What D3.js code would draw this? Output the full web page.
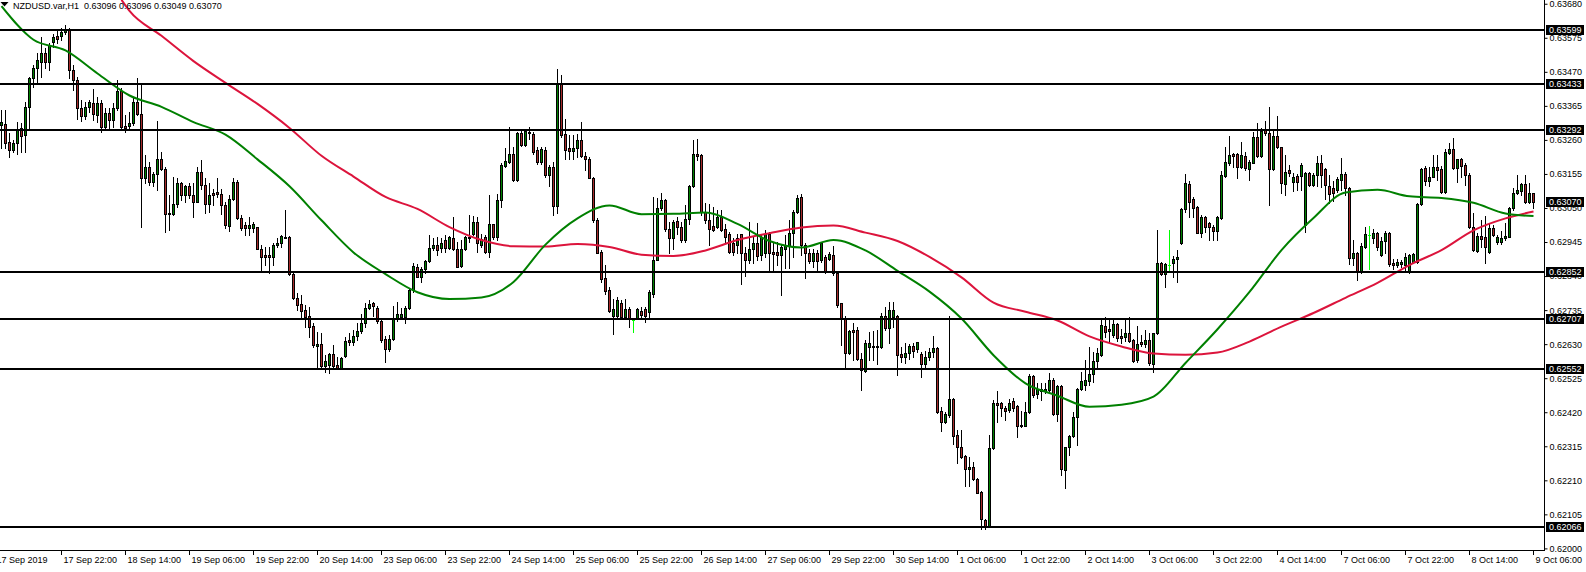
<!DOCTYPE html>
<html><head><meta charset="utf-8">
<script src="https://cdn.jsdelivr.net/npm/d3@7"></script>
<style>
html,body{margin:0;padding:0;background:#fff;overflow:hidden;}
svg{display:block;font-family:"Liberation Sans",Arial,sans-serif;}
</style></head><body>
<svg id="c" width="1586" height="572"></svg>
<script>
const title = "NZDUSD.var,H1  0.63096 0.63096 0.63049 0.63070";
const open = [
0.63306,0.63308,0.63254,0.63229,0.63249,0.63298,0.63275,0.63362,0.63450,0.63481,
0.63501,0.63527,0.63499,0.63561,0.63581,0.63581,0.63592,0.63599,0.63475,0.63445,
0.63357,0.63335,0.63362,0.63373,0.63337,0.63373,0.63301,0.63342,0.63321,0.63359,
0.63411,0.63304,0.63304,0.63311,0.63376,0.63341,0.63141,0.63176,0.63129,0.63154,
0.63201,0.63170,0.63033,0.63032,0.63061,0.63126,0.63090,0.63119,0.63090,0.63069,
0.63162,0.63121,0.63061,0.63095,0.63098,0.63092,0.63059,0.62995,0.63078,0.63131,
0.63020,0.62997,0.62989,0.62987,0.62990,0.62925,0.62905,0.62905,0.62900,0.62936,
0.62941,0.62956,0.62959,0.62846,0.62771,0.62754,0.62735,0.62717,0.62686,0.62624,
0.62630,0.62562,0.62566,0.62600,0.62566,0.62555,0.62593,0.62643,0.62638,0.62655,
0.62671,0.62696,0.62743,0.62756,0.62743,0.62702,0.62645,0.62614,0.62645,0.62709,
0.62715,0.62715,0.62743,0.62797,0.62869,0.62838,0.62861,0.62887,0.62928,0.62936,
0.62928,0.62951,0.62928,0.62956,0.62925,0.62871,0.62922,0.62961,0.62970,0.63008,
0.62936,0.62961,0.62915,0.63000,0.62961,0.63074,0.63179,0.63193,0.63216,0.63136,
0.63282,0.63244,0.63285,0.63278,0.63230,0.63192,0.63230,0.63151,0.63177,0.63056,
0.63434,0.63278,0.63234,0.63226,0.63234,0.63259,0.63210,0.63202,0.63144,0.63013,
0.62914,0.62833,0.62797,0.62716,0.62716,0.62758,0.62714,0.62737,0.62706,0.62712,
0.62733,0.62737,0.62730,0.62786,0.62891,0.63049,0.63074,0.62984,0.62956,0.63010,
0.62992,0.62951,0.63015,0.63117,0.63218,0.63213,0.63038,0.63013,0.62994,0.62992,
0.63023,0.62984,0.62969,0.62943,0.62935,0.62969,0.62912,0.62891,0.62922,0.62943,
0.62905,0.62910,0.62971,0.62915,0.62915,0.62905,0.62922,0.62933,0.62972,0.63039,
0.63083,0.62936,0.62910,0.62888,0.62910,0.62890,0.62900,0.62892,0.62905,0.62848,
0.62756,0.62707,0.62604,0.62674,0.62674,0.62583,0.62548,0.62620,0.62624,0.62620,
0.62622,0.62717,0.62679,0.62715,0.62717,0.62600,0.62591,0.62602,0.62624,0.62614,
0.62600,0.62569,0.62589,0.62607,0.62617,0.62425,0.62391,0.62412,0.62460,0.62350,
0.62312,0.62285,0.62244,0.62250,0.62213,0.62175,0.62088,0.62069,0.62309,0.62450,
0.62448,0.62432,0.62427,0.62456,0.62439,0.62376,0.62378,0.62422,0.62532,0.62476,
0.62491,0.62487,0.62489,0.62519,0.62415,0.62501,0.62242,0.62312,0.62347,0.62404,
0.62491,0.62504,0.62517,0.62538,0.62579,0.62597,0.62686,0.62676,0.62658,0.62692,
0.62655,0.62653,0.62663,0.62643,0.62581,0.62638,0.62631,0.62643,0.62569,0.62663,
0.62881,0.62846,0.62874,0.62879,0.62892,0.62941,0.63046,0.63124,0.63077,0.63054,
0.62974,0.63021,0.63005,0.62992,0.62980,0.63018,0.63149,0.63188,0.63215,0.63216,
0.63177,0.63210,0.63169,0.63190,0.63270,0.63210,0.63290,0.63280,0.63169,0.63272,
0.63237,0.63124,0.63167,0.63131,0.63149,0.63149,0.62997,0.63159,0.63121,0.63152,
0.63190,0.63169,0.63118,0.63111,0.63105,0.63136,0.63155,0.63111,0.62895,0.62912,
0.62854,0.62931,0.62967,0.62956,0.62972,0.62905,0.62949,0.62972,0.62881,0.62874,
0.62877,0.62874,0.62857,0.62884,0.62884,0.63062,0.63172,0.63134,0.63147,0.63177,
0.63169,0.63100,0.63221,0.63231,0.63172,0.63200,0.63183,0.63152,0.62990,0.62918,
0.62964,0.62959,0.62915,0.62987,0.62946,0.62946,0.62956,0.62962,0.63049,0.63095,
0.63103,0.63124,0.63069,0.63096];
const high = [
0.63352,0.63352,0.63280,0.63260,0.63316,0.63311,0.63378,0.63455,0.63491,0.63527,
0.63578,0.63542,0.63558,0.63588,0.63599,0.63606,0.63614,0.63604,0.63491,0.63455,
0.63383,0.63376,0.63383,0.63417,0.63393,0.63383,0.63357,0.63357,0.63373,0.63445,
0.63419,0.63337,0.63347,0.63388,0.63452,0.63434,0.63213,0.63193,0.63162,0.63318,
0.63224,0.63177,0.63090,0.63146,0.63141,0.63131,0.63121,0.63126,0.63126,0.63177,
0.63198,0.63141,0.63126,0.63110,0.63141,0.63108,0.63069,0.63090,0.63141,0.63136,
0.63028,0.63008,0.63023,0.63008,0.62992,0.62936,0.62931,0.62931,0.62941,0.62956,
0.62966,0.63044,0.62963,0.62850,0.62787,0.62781,0.62751,0.62745,0.62694,0.62668,
0.62665,0.62596,0.62604,0.62627,0.62591,0.62591,0.62653,0.62663,0.62674,0.62694,
0.62723,0.62758,0.62766,0.62761,0.62748,0.62705,0.62655,0.62658,0.62748,0.62761,
0.62743,0.62748,0.62802,0.62879,0.62877,0.62869,0.62889,0.62966,0.62956,0.62961,
0.62956,0.62966,0.62963,0.63021,0.62946,0.62951,0.62963,0.63028,0.63025,0.63023,
0.62971,0.62966,0.63090,0.63002,0.63093,0.63188,0.63234,0.63299,0.63237,0.63285,
0.63288,0.63295,0.63300,0.63285,0.63237,0.63237,0.63237,0.63182,0.63192,0.63480,
0.63460,0.63326,0.63275,0.63275,0.63278,0.63316,0.63223,0.63208,0.63146,0.63018,
0.62920,0.62874,0.62807,0.62768,0.62774,0.62766,0.62768,0.62745,0.62709,0.62740,
0.62745,0.62745,0.62797,0.63085,0.63082,0.63095,0.63079,0.63007,0.63013,0.63023,
0.63007,0.63059,0.63120,0.63259,0.63264,0.63218,0.63064,0.63062,0.63054,0.63045,
0.63043,0.63002,0.62977,0.62956,0.62971,0.62971,0.62930,0.63007,0.62959,0.63004,
0.62971,0.62982,0.62977,0.62941,0.62946,0.62936,0.62967,0.63013,0.63044,0.63090,
0.63093,0.62941,0.62922,0.62922,0.62920,0.62946,0.62905,0.62915,0.62933,0.62851,
0.62758,0.62717,0.62674,0.62696,0.62684,0.62602,0.62643,0.62669,0.62672,0.62674,
0.62725,0.62746,0.62761,0.62761,0.62720,0.62622,0.62633,0.62631,0.62633,0.62638,
0.62607,0.62610,0.62617,0.62655,0.62622,0.62437,0.62422,0.62717,0.62463,0.62365,
0.62365,0.62288,0.62283,0.62268,0.62216,0.62178,0.62090,0.62350,0.62458,0.62484,
0.62453,0.62439,0.62460,0.62463,0.62442,0.62425,0.62453,0.62538,0.62535,0.62509,
0.62509,0.62509,0.62540,0.62525,0.62504,0.62504,0.62314,0.62350,0.62422,0.62494,
0.62545,0.62581,0.62620,0.62607,0.62617,0.62710,0.62715,0.62705,0.62705,0.62696,
0.62676,0.62710,0.62713,0.62645,0.62686,0.62658,0.62674,0.62663,0.62665,0.62982,
0.62884,0.62881,0.62982,0.62902,0.62920,0.63049,0.63155,0.63134,0.63083,0.63056,
0.63028,0.63025,0.63008,0.62997,0.63025,0.63165,0.63239,0.63272,0.63219,0.63221,
0.63254,0.63224,0.63198,0.63285,0.63311,0.63296,0.63319,0.63360,0.63293,0.63334,
0.63239,0.63213,0.63183,0.63159,0.63155,0.63188,0.63162,0.63162,0.63157,0.63210,
0.63213,0.63172,0.63152,0.63134,0.63145,0.63203,0.63162,0.63114,0.62951,0.62915,
0.62941,0.62992,0.62994,0.62984,0.62977,0.62962,0.62980,0.62977,0.62892,0.62892,
0.62890,0.62910,0.62908,0.62912,0.63064,0.63172,0.63179,0.63177,0.63213,0.63213,
0.63179,0.63231,0.63249,0.63265,0.63200,0.63203,0.63188,0.63157,0.63036,0.62974,
0.63013,0.63025,0.63003,0.62997,0.62967,0.62980,0.63003,0.63054,0.63111,0.63152,
0.63126,0.63152,0.63126,0.63096];
const low = [
0.63234,0.63234,0.63208,0.63224,0.63218,0.63224,0.63224,0.63295,0.63424,0.63439,
0.63455,0.63481,0.63475,0.63547,0.63558,0.63568,0.63588,0.63450,0.63414,0.63326,
0.63318,0.63326,0.63347,0.63321,0.63316,0.63283,0.63295,0.63295,0.63301,0.63352,
0.63290,0.63285,0.63290,0.63306,0.63337,0.62992,0.63126,0.63121,0.63119,0.63105,
0.63167,0.62977,0.62982,0.63028,0.63054,0.63074,0.63069,0.63082,0.63023,0.63067,
0.63110,0.63033,0.63038,0.63059,0.63085,0.63030,0.62987,0.62979,0.63074,0.63016,
0.62982,0.62967,0.62967,0.62977,0.62922,0.62859,0.62874,0.62848,0.62874,0.62931,
0.62931,0.62956,0.62843,0.62768,0.62735,0.62709,0.62684,0.62653,0.62620,0.62560,
0.62555,0.62545,0.62542,0.62555,0.62552,0.62552,0.62591,0.62627,0.62627,0.62643,
0.62665,0.62684,0.62737,0.62717,0.62694,0.62638,0.62576,0.62610,0.62643,0.62702,
0.62709,0.62694,0.62737,0.62792,0.62836,0.62823,0.62848,0.62884,0.62920,0.62905,
0.62915,0.62915,0.62925,0.62920,0.62867,0.62869,0.62920,0.62946,0.62966,0.62915,
0.62931,0.62910,0.62898,0.62953,0.62951,0.63054,0.63177,0.63188,0.63134,0.63134,
0.63241,0.63241,0.63264,0.63218,0.63187,0.63187,0.63146,0.63117,0.63028,0.63033,
0.63270,0.63200,0.63200,0.63200,0.63208,0.63208,0.63167,0.63141,0.63007,0.62910,
0.62822,0.62786,0.62730,0.62661,0.62714,0.62709,0.62709,0.62684,0.62668,0.62709,
0.62714,0.62699,0.62712,0.62774,0.62889,0.63043,0.62980,0.62912,0.62925,0.62971,
0.62946,0.62946,0.63002,0.63115,0.63198,0.63028,0.63004,0.62935,0.62980,0.62987,
0.62980,0.62941,0.62910,0.62905,0.62910,0.62817,0.62840,0.62879,0.62879,0.62891,
0.62889,0.62899,0.62860,0.62859,0.62874,0.62782,0.62864,0.62864,0.62900,0.63034,
0.62905,0.62833,0.62879,0.62869,0.62859,0.62884,0.62848,0.62890,0.62843,0.62746,
0.62627,0.62561,0.62600,0.62581,0.62581,0.62489,0.62545,0.62581,0.62581,0.62569,
0.62617,0.62674,0.62635,0.62682,0.62535,0.62576,0.62571,0.62583,0.62591,0.62607,
0.62528,0.62555,0.62581,0.62591,0.62417,0.62363,0.62386,0.62406,0.62322,0.62263,
0.62278,0.62191,0.62191,0.62211,0.62170,0.62059,0.62059,0.62067,0.62306,0.62391,
0.62408,0.62396,0.62422,0.62425,0.62345,0.62374,0.62376,0.62419,0.62468,0.62463,
0.62458,0.62478,0.62483,0.62412,0.62394,0.62226,0.62185,0.62288,0.62345,0.62319,
0.62489,0.62489,0.62504,0.62514,0.62561,0.62593,0.62653,0.62635,0.62653,0.62641,
0.62635,0.62641,0.62638,0.62576,0.62576,0.62624,0.62620,0.62566,0.62545,0.62661,
0.62843,0.62807,0.62854,0.62838,0.62823,0.62939,0.63039,0.63023,0.63023,0.62972,
0.62962,0.62977,0.62951,0.62951,0.62951,0.63015,0.63147,0.63183,0.63177,0.63141,
0.63172,0.63167,0.63136,0.63188,0.63208,0.63206,0.63275,0.63059,0.63167,0.63234,
0.63095,0.63090,0.63149,0.63103,0.63105,0.63105,0.62977,0.63118,0.63118,0.63118,
0.63114,0.63077,0.63064,0.63073,0.63100,0.63107,0.63090,0.62877,0.62874,0.62828,
0.62848,0.62926,0.62861,0.62941,0.62920,0.62902,0.62910,0.62871,0.62861,0.62869,
0.62869,0.62859,0.62851,0.62881,0.62881,0.63059,0.63121,0.63118,0.63145,0.63136,
0.63097,0.63097,0.63216,0.63169,0.63131,0.63147,0.63121,0.62987,0.62918,0.62915,
0.62931,0.62881,0.62912,0.62964,0.62939,0.62939,0.62951,0.62959,0.63044,0.63093,
0.63090,0.63066,0.63066,0.63049];
const close = [
0.63314,0.63249,0.63229,0.63249,0.63295,0.63273,0.63361,0.63450,0.63483,0.63506,
0.63527,0.63501,0.63552,0.63578,0.63571,0.63594,0.63599,0.63475,0.63445,0.63357,
0.63335,0.63362,0.63376,0.63339,0.63373,0.63301,0.63342,0.63321,0.63359,0.63411,
0.63301,0.63298,0.63311,0.63376,0.63341,0.63141,0.63176,0.63129,0.63154,0.63201,
0.63170,0.63030,0.63030,0.63061,0.63126,0.63090,0.63117,0.63090,0.63069,0.63162,
0.63121,0.63061,0.63090,0.63090,0.63092,0.63059,0.62997,0.63078,0.63131,0.63020,
0.62989,0.62989,0.62997,0.63000,0.62925,0.62900,0.62898,0.62898,0.62936,0.62943,
0.62963,0.62961,0.62846,0.62771,0.62751,0.62733,0.62715,0.62682,0.62627,0.62632,
0.62562,0.62579,0.62600,0.62562,0.62555,0.62586,0.62641,0.62638,0.62655,0.62671,
0.62696,0.62740,0.62754,0.62748,0.62702,0.62643,0.62614,0.62645,0.62709,0.62723,
0.62723,0.62743,0.62797,0.62871,0.62838,0.62861,0.62887,0.62928,0.62936,0.62920,
0.62943,0.62928,0.62959,0.62922,0.62869,0.62922,0.62959,0.62956,0.63008,0.62941,
0.62953,0.62915,0.63000,0.62961,0.63074,0.63182,0.63195,0.63216,0.63136,0.63280,
0.63244,0.63288,0.63282,0.63223,0.63192,0.63233,0.63151,0.63177,0.63056,0.63436,
0.63275,0.63228,0.63226,0.63234,0.63259,0.63210,0.63200,0.63144,0.63013,0.62912,
0.62832,0.62795,0.62733,0.62737,0.62766,0.62714,0.62737,0.62712,0.62706,0.62737,
0.62720,0.62716,0.62792,0.62891,0.63049,0.63074,0.62984,0.62956,0.63007,0.62992,
0.62951,0.63015,0.63117,0.63218,0.63211,0.63038,0.63013,0.62984,0.62982,0.63023,
0.62982,0.62961,0.62915,0.62915,0.62956,0.62912,0.62891,0.62922,0.62943,0.62902,
0.62959,0.62971,0.62910,0.62908,0.62905,0.62929,0.62933,0.62972,0.63039,0.63080,
0.62936,0.62910,0.62888,0.62910,0.62888,0.62943,0.62857,0.62908,0.62848,0.62751,
0.62707,0.62604,0.62672,0.62669,0.62583,0.62550,0.62635,0.62635,0.62620,0.62624,
0.62717,0.62679,0.62735,0.62735,0.62597,0.62591,0.62602,0.62624,0.62610,0.62637,
0.62569,0.62589,0.62607,0.62617,0.62422,0.62391,0.62415,0.62460,0.62347,0.62312,
0.62283,0.62244,0.62252,0.62213,0.62172,0.62090,0.62069,0.62309,0.62450,0.62442,
0.62432,0.62425,0.62450,0.62432,0.62378,0.62381,0.62422,0.62532,0.62473,0.62491,
0.62487,0.62491,0.62519,0.62415,0.62501,0.62244,0.62312,0.62347,0.62404,0.62491,
0.62517,0.62519,0.62538,0.62579,0.62602,0.62689,0.62669,0.62672,0.62692,0.62648,
0.62648,0.62663,0.62641,0.62579,0.62631,0.62631,0.62643,0.62571,0.62663,0.62881,
0.62846,0.62877,0.62874,0.62892,0.62900,0.63046,0.63126,0.63069,0.63049,0.62974,
0.63023,0.62992,0.62990,0.62980,0.63021,0.63152,0.63193,0.63213,0.63210,0.63175,
0.63213,0.63172,0.63193,0.63268,0.63210,0.63288,0.63280,0.63169,0.63272,0.63237,
0.63128,0.63162,0.63159,0.63147,0.63131,0.63183,0.63157,0.63121,0.63152,0.63190,
0.63152,0.63121,0.63093,0.63097,0.63138,0.63155,0.63111,0.62895,0.62912,0.62854,
0.62933,0.62970,0.62967,0.62974,0.62931,0.62949,0.62974,0.62877,0.62874,0.62884,
0.62884,0.62898,0.62905,0.62908,0.63062,0.63169,0.63134,0.63147,0.63177,0.63167,
0.63100,0.63224,0.63231,0.63172,0.63200,0.63179,0.63152,0.62990,0.62920,0.62964,
0.62953,0.62931,0.62987,0.62967,0.62962,0.62956,0.62964,0.63049,0.63095,0.63107,
0.63124,0.63069,0.63095,0.63070];

const fastMaBars = [0,8,16,24,32,40,48,56,64,72,80,88,96,104,112,120,128,136,144,152,160,168,176,184,192,200,208,216,224,232,240,248,256,264,272,280,288,296,304,312,320,328,336,344,352,360,368,376,383];
const fastMaValues = [
0.63673,0.63569,0.63536,0.63465,0.63397,0.63362,0.63315,0.63276,0.63200,0.63117,
0.63012,0.62913,0.62846,0.62790,0.62769,0.62774,0.62822,0.62937,0.63018,0.63058,
0.63031,0.63032,0.63036,0.63001,0.62948,0.62928,0.62951,0.62919,0.62856,0.62792,
0.62709,0.62596,0.62509,0.62471,0.62437,0.62443,0.62468,0.62572,0.62676,0.62791,
0.62920,0.63019,0.63098,0.63106,0.63086,0.63081,0.63066,0.63033,0.63025];
const slowMaBars = [30,32,40,48,56,64,72,80,88,96,104,112,120,128,136,144,152,160,168,176,184,192,200,208,216,224,232,240,248,256,264,272,280,288,296,304,312,320,328,336,344,352,360,368,376,383];
const slowMaValues = [
0.63692,0.63658,0.63581,0.63503,0.63436,0.63371,0.63297,0.63211,0.63147,0.63084,
0.63047,0.62991,0.62951,0.62932,0.62931,0.62939,0.62930,0.62906,0.62902,0.62919,
0.62951,0.62972,0.62990,0.62996,0.62974,0.62948,0.62899,0.62836,0.62758,0.62730,
0.62703,0.62654,0.62623,0.62601,0.62597,0.62604,0.62638,0.62684,0.62726,0.62773,
0.62819,0.62874,0.62920,0.62981,0.63018,0.63039];

const levels = [0.63599,0.63433,0.63292,0.62852,0.62707,0.62552,0.62066];
const levelLabels = ["0.63599","0.63433","0.63292","0.62852","0.62707","0.62552","0.62066"];
const currentPrice = 0.63070;
const currentLabel = "0.63070";
const priceTicks = ["0.63680","0.63575","0.63470","0.63365","0.63260","0.63155","0.63050","0.62945","0.62840","0.62735","0.62630","0.62525","0.62420","0.62315","0.62210","0.62105","0.62000"];
const timeLabels = ["17 Sep 2019","17 Sep 22:00","18 Sep 14:00","19 Sep 06:00","19 Sep 22:00","20 Sep 14:00","23 Sep 06:00","23 Sep 22:00","24 Sep 14:00","25 Sep 06:00","25 Sep 22:00","26 Sep 14:00","27 Sep 06:00","29 Sep 22:00","30 Sep 14:00","1 Oct 06:00","1 Oct 22:00","2 Oct 14:00","3 Oct 06:00","3 Oct 22:00","4 Oct 14:00","7 Oct 06:00","7 Oct 22:00","8 Oct 14:00","9 Oct 06:00"];
const timeLabelBars = [-1.75,15,31,47,63,79,95,111,127,143,159,175,191,207,223,239,255,271,287,303,319,335,351,367,383];

const BULL = "#008000", BEAR = "#a52a2a", DOJI = "#00ff00";
const plotW = 1544, plotH = 550;
const svg = d3.select("#c");
const xs = d3.scaleLinear().domain([0, 383]).range([1.5, 1533.5]);
const ys = d3.scaleLinear().domain([0.62066, 0.63599]).range([527, 30]);

svg.append("defs").append("clipPath").attr("id","clip")
  .append("rect").attr("x",0).attr("y",0).attr("width",plotW).attr("height",plotH);
const plot = svg.append("g").attr("clip-path","url(#clip)");

// candles
const cg = plot.append("g");
d3.range(open.length).forEach(i => {
  const cx = Math.round(xs(i) - 0.5) + 0.5;
  const o = open[i], c = close[i];
  const doji = o === c;
  cg.append("line").attr("x1",cx).attr("x2",cx)
    .attr("y1",Math.round(ys(high[i]))).attr("y2",Math.round(ys(low[i]))+1)
    .attr("stroke", doji ? DOJI : "#000").attr("stroke-width",1);
  if (doji) {
    const yy = Math.round(ys(o)) + 0.5;
    cg.append("line").attr("x1",cx-1.5).attr("x2",cx+1.5).attr("y1",yy).attr("y2",yy)
      .attr("stroke",DOJI).attr("stroke-width",1);
  } else {
    const yt = Math.round(ys(Math.max(o,c))), yb = Math.round(ys(Math.min(o,c)));
    cg.append("rect").attr("x",cx-1).attr("y",yt+0.5).attr("width",2)
      .attr("height",Math.max(yb-yt,1))
      .attr("fill", c > o ? BULL : BEAR).attr("stroke","#000").attr("stroke-width",1);
  }
});

// moving averages
const line = d3.line().x(d => xs(d[0])).y(d => ys(d[1])).curve(d3.curveMonotoneX);
plot.append("path").datum(slowMaBars.map((b,i)=>[b, slowMaValues[i]]))
  .attr("d", line).attr("fill","none").attr("stroke","#dc143c").attr("stroke-width",2);
plot.append("path").datum(fastMaBars.map((b,i)=>[b, fastMaValues[i]]))
  .attr("d", line).attr("fill","none").attr("stroke","#008000").attr("stroke-width",2);

// horizontal levels
plot.selectAll("line.lvl").data(levels).join("line").attr("class","lvl")
  .attr("x1",0).attr("x2",plotW)
  .attr("y1",d=>Math.round(ys(d))).attr("y2",d=>Math.round(ys(d)))
  .attr("stroke","#000").attr("stroke-width",2);

// frame
svg.append("line").attr("x1",plotW+0.5).attr("x2",plotW+0.5).attr("y1",0).attr("y2",plotH+1)
  .attr("stroke","#000").attr("stroke-width",1);
svg.append("line").attr("x1",0).attr("x2",plotW+1).attr("y1",plotH+0.5).attr("y2",plotH+0.5)
  .attr("stroke","#000").attr("stroke-width",1);

// price axis
const yAxis = d3.axisRight(ys).tickValues(priceTicks.map(Number))
  .tickFormat((d,i)=>priceTicks[i]).tickSize(3).tickSizeOuter(0).tickPadding(2);
const ag = svg.append("g").attr("transform",`translate(${plotW+0.5},0)`).call(yAxis);
ag.select(".domain").remove();
ag.selectAll("line").attr("stroke","#000");
ag.selectAll("text").attr("fill","#000").style("font-size","9px").style("font-family","'Liberation Sans',Arial,sans-serif");

// level labels
const boxes = levels.map((v,i)=>({v, t: levelLabels[i]})).concat([{v: currentPrice, t: currentLabel}]);
const bg = svg.append("g");
boxes.forEach(b => {
  const yc = Math.round(ys(b.v));
  bg.append("rect").attr("x",plotW+2).attr("y",yc-5).attr("width",38).attr("height",10).attr("fill","#000");
  bg.append("text").attr("x",plotW+5).attr("y",yc).attr("dy","0.34em")
    .attr("fill","#fff").style("font-size","9px").text(b.t);
});

// time axis
const tg = svg.append("g");
timeLabels.forEach((t,i) => {
  const tx = Math.round(xs(timeLabelBars[i]) - 0.5) + 0.5;
  tg.append("line").attr("x1",tx).attr("x2",tx).attr("y1",plotH+1).attr("y2",plotH+5)
    .attr("stroke","#000").attr("stroke-width",1);
  tg.append("text").attr("x",tx+2).attr("y",plotH+13).attr("fill","#000")
    .style("font-size","9px").text(t);
});

// title
svg.append("path").attr("d","M0.5,2 L8.5,2 L4.5,6.5 Z").attr("fill","#000");
svg.append("text").attr("x",13).attr("y",9).attr("fill","#000").style("font-size","9px")
  .attr("xml:space","preserve").style("white-space","pre").text(title);
</script>
</body></html>
